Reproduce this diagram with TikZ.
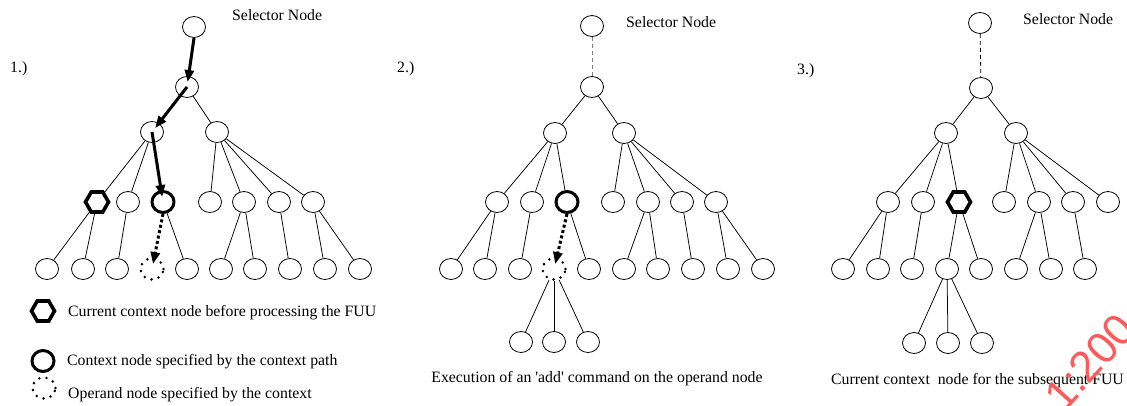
\documentclass[tikz,border=0pt]{standalone}
\usepackage{fontspec}
\setmainfont{Liberation Serif}[Ligatures=TeXOff]
\newfontfamily\stampfont{Liberation Sans}
\usetikzlibrary{shapes.geometric, arrows.meta}
\definecolor{stampred}{RGB}{255,90,90}

\tikzset{
  tnode/.style={ellipse, draw, line width=0.8pt, minimum width=23pt, minimum height=21pt, inner sep=0pt},
  ctxnode/.style={tnode, line width=3pt, minimum width=22pt, minimum height=21pt},
  curnode/.style={regular polygon, regular polygon sides=6, draw, line width=3.6pt, minimum size=23pt, inner sep=0pt},
  opnode/.style={tnode, line width=2.8pt, line cap=round, dash pattern=on 0pt off 7.3pt},
  tedge/.style={line width=0.75pt},
  sellink/.style={line width=0.8pt, dash pattern=on 4pt off 3pt},
  patharrow/.style={line width=3pt, -{Triangle[length=12pt, width=9pt]}, shorten >=5pt},
  oparrow/.style={patharrow, dash pattern=on 3pt off 2.5pt},
  lbl/.style={font=\fontsize{15.8}{19}\selectfont, anchor=base west, inner sep=0pt},
}

\begin{document}
\begin{tikzpicture}[x=1pt, y=-1pt]
\useasboundingbox (0,0) rectangle (1127,405);
\clip (0,0) rectangle (1127,405);

% 1.) following the context path
\node[lbl] (p1num) at (10,72.5) {1.)};
\node[tnode] (p1sel) at (194,27) {};
\node[lbl] (p1seltxt) at (232,20) {Selector Node};
\node[tnode] (p1top) at (187,87) {};
\node[tnode] (p1l) at (152,132) {};
\node[tnode] (p1r) at (217,132) {};
\node[curnode] (p1c1) at (97,202) {};
\node[tnode] (p1c2) at (128,202) {};
\node[ctxnode] (p1c3) at (163,202) {};
\foreach \x/\i in {210/4, 244/5, 279/6, 313/7}
  \node[tnode] (p1c\i) at (\x,202) {};
\foreach \x/\i in {47/1, 83/2, 117/3, 187/5, 221/6, 255/7, 290/8, 325/9, 360/10}
  \node[tnode] (p1g\i) at (\x,269) {};
\node[opnode] (p1g4) at (152,269) {};

\foreach \a/\b in {top/r, l/c1, l/c2, r/c4, r/c5, r/c6, r/c7,
    c1/g1, c1/g2, c2/g3, c3/g5, c5/g6, c5/g7, c6/g8, c7/g9, c7/g10}
  \draw[tedge] (p1\a) -- (p1\b);

\draw[patharrow] (p1sel.south) -- (p1top.center);
\draw[patharrow] (p1top.center) -- (p1l.center);
\draw[patharrow] (p1l.center) -- (p1c3.center);
\draw[oparrow] (p1c3.south) -- (p1g4.center);

% Legend
\node[curnode] (keycur) at (43,311) {};
\node[lbl] (keycurtxt) at (68,316) {Current context node before processing the FUU};
\node[ctxnode] (keyctx) at (43,361) {};
\node[lbl] (keyctxtxt) at (67,365) {Context node specified by the context path};
\node[opnode] (keyop) at (44,388) {};
\node[lbl] (keyoptxt) at (68,398) {Operand node specified by the context};

% 2.) the 'add' command
\node[lbl] (p2num) at (397,72.5) {2.)};
\node[tnode] (p2sel) at (592,26) {};
\node[lbl] (p2seltxt) at (626,27) {Selector Node};
\node[tnode] (p2top) at (592,87) {};
\node[tnode] (p2l) at (555,133) {};
\node[tnode] (p2r) at (624,133) {};
\foreach \x/\i in {497/1, 532/2, 613/4, 648/5, 682/6, 716/7}
  \node[tnode] (p2c\i) at (\x,202) {};
\node[ctxnode] (p2c3) at (567,202) {};
\foreach \x/\i in {451/1, 485/2, 520/3, 589/5, 624/6, 658/7, 693/8, 728/9, 763/10}
  \node[tnode] (p2g\i) at (\x,269) {};
\node[opnode] (p2g4) at (554,269) {};
\foreach \x/\i in {521/1, 554/2, 588/3}
  \node[tnode] (p2n\i) at (\x,342) {};

\draw[sellink, gray] (p2sel) -- (p2top);
\foreach \a/\b in {top/l, top/r, l/c1, l/c2, l/c3, r/c4, r/c5, r/c6, r/c7,
    c1/g1, c1/g2, c2/g3, c3/g5, c5/g6, c5/g7, c6/g8, c7/g9, c7/g10,
    g4/n1, g4/n2, g4/n3}
  \draw[tedge] (p2\a) -- (p2\b);
\draw[oparrow] (p2c3.south) -- (p2g4.center);

\node[lbl, anchor=base] (p2cap) at (597,382) {Execution of an 'add' command on the operand node};

% 3.) new context node
\node[lbl] (p3num) at (797,74) {3.)};
\node[tnode] (p3sel) at (980,23) {};
\node[lbl] (p3seltxt) at (1023,24.3) {Selector Node};
\node[tnode] (p3top) at (981,88) {};
\node[tnode] (p3l) at (946,133) {};
\node[tnode] (p3r) at (1016,133) {};
\foreach \x/\i in {888/1, 923/2, 1004/4, 1039/5, 1073/6, 1108/7}
  \node[tnode] (p3c\i) at (\x,202) {};
\node[curnode] (p3c3) at (959,202) {};
\foreach \x/\i in {843/1, 878/2, 912/3, 947/4, 981/5, 1016/6, 1051/7, 1085/8}
  \node[tnode] (p3g\i) at (\x,269) {};
\foreach \x/\i in {914/1, 948/2, 982/3}
  \node[tnode] (p3n\i) at (\x,343) {};

\draw[sellink] (p3sel) -- (p3top);
\foreach \a/\b in {top/l, top/r, l/c1, l/c2, l/c3, r/c4, r/c5, r/c6, r/c7,
    c1/g1, c1/g2, c2/g3, c3/g4, c3/g5, c5/g6, c5/g7, c6/g8,
    g4/n1, g4/n2, g4/n3}
  \draw[tedge] (p3\a) -- (p3\b);

\node[lbl] (p3cap) at (831,384) {Current context\ \ node for the subsequent FUU};

\node[font=\stampfont\fontsize{44}{44}\selectfont, text=stampred, rotate=48, inner sep=0pt] (stamp) at (1090,362) {1:200};
\end{tikzpicture}
\end{document}
